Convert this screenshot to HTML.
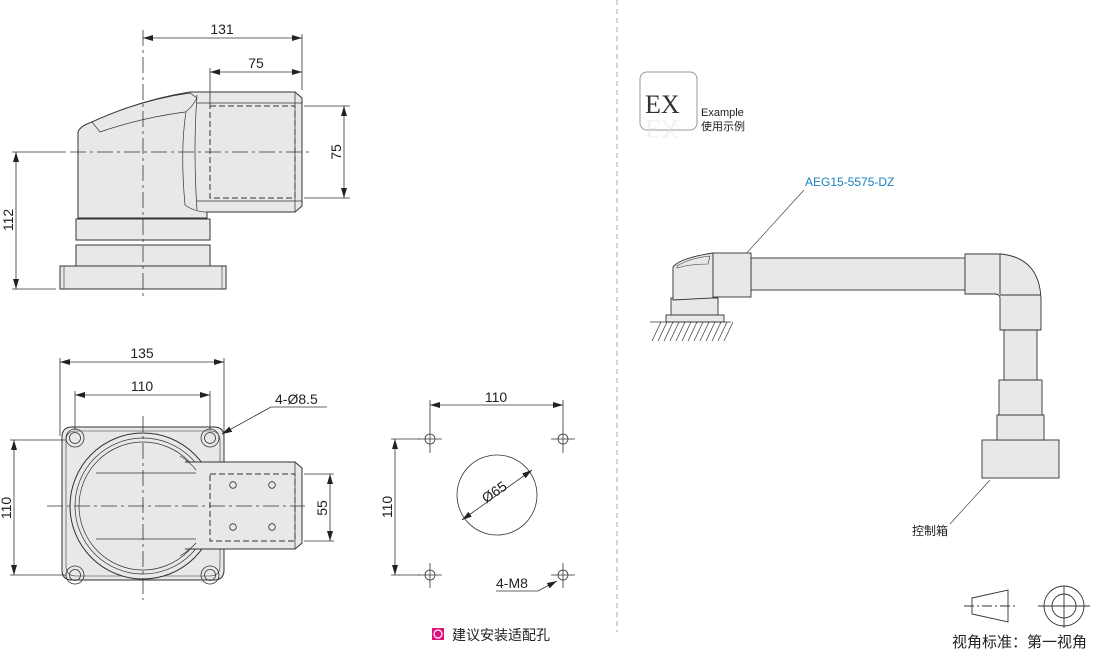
<!DOCTYPE html>
<html><head><meta charset="utf-8"><style>
html,body{margin:0;padding:0;background:#fff;}
svg{display:block;font-family:"Liberation Sans","Noto Sans CJK SC",sans-serif;}
</style></head><body>
<svg width="1110" height="654" viewBox="0 0 1110 654" xmlns="http://www.w3.org/2000/svg">
<defs>
<marker id="a" viewBox="0 0 10 6" refX="10" refY="3" markerWidth="10" markerHeight="6" orient="auto-start-reverse" markerUnits="userSpaceOnUse"><path d="M0,0 L10,3 L0,6 z" fill="#222"/></marker>
</defs>
<g stroke="#333" stroke-width="1" fill="#e8e8ea">
<rect x="60" y="266" width="166" height="23"/>
<rect x="64" y="266" width="158" height="23" fill="none" stroke-width="0.6"/>
<rect x="76" y="245" width="134" height="21"/>
<rect x="76" y="219" width="134" height="21"/>
<path d="M78,200 L78,132 Q80,126 92,122 Q140,100 190,92 L295,92 L302,98 L302,206 L295,212 L207,212 L207,218 L78,218 Z"/>
<path d="M92,122 Q140,100 190,93 L197,98 Q190,110 185,112 Q140,118 100,132 Z" stroke-width="0.7"/>
<path d="M186,112 Q180,150 185,205 Q195,212 207,212" fill="none" stroke-width="0.7"/>
<path d="M197,95 Q193,150 197,210" fill="none" stroke-width="0.7"/>
<line x1="197" y1="103" x2="302" y2="103" stroke-width="0.7"/>
<line x1="197" y1="201" x2="302" y2="201" stroke-width="0.7"/>
<line x1="295" y1="92" x2="295" y2="212" stroke-width="0.7"/>
<rect x="210" y="106" width="85" height="92" fill="none" stroke-dasharray="6,3"/>
<path d="M72,427 L214,427 Q224,427 224,437 L224,570 Q224,580 214,580 L72,580 Q62,580 62,570 L62,437 Q62,427 72,427 Z"/>
<path d="M76,431 L210,431 Q220,431 220,441 L220,566 Q220,576 210,576 L76,576 Q66,576 66,566 L66,441 Q66,431 76,431 Z" fill="none" stroke-width="0.6"/>
<circle cx="143" cy="506" r="73"/>
<circle cx="143" cy="506" r="68" fill="none" stroke-width="0.7"/>
<circle cx="143" cy="506" r="64" fill="none" stroke-width="0.7"/>
<path d="M180,462 L295,462 L302,468 L302,543 L295,549 L180,549 Z" stroke="none"/>
<path d="M185,462 L295,462 L302,468 L302,543 L295,549 L185,549" fill="none"/>
<line x1="96" y1="473" x2="196" y2="473" stroke-width="0.7"/>
<line x1="96" y1="539" x2="196" y2="539" stroke-width="0.7"/>
<line x1="295" y1="462" x2="295" y2="549" stroke-width="0.7"/>
<path d="M180,456 Q190,462 196,470 M180,556 Q190,550 196,543" fill="none" stroke-width="0.7"/>
<rect x="210" y="474" width="85" height="67" fill="none" stroke-dasharray="6,3"/>
<g fill="none" stroke-width="0.8">
<circle cx="233" cy="485" r="3.3"/><circle cx="272" cy="485" r="3.3"/>
<circle cx="233" cy="527" r="3.3"/><circle cx="272" cy="527" r="3.3"/>
<circle cx="75" cy="438" r="9"/><circle cx="75" cy="438" r="5.5"/>
<circle cx="210" cy="438" r="9"/><circle cx="210" cy="438" r="5.5"/>
<circle cx="75" cy="575" r="9"/><circle cx="75" cy="575" r="5.5"/>
<circle cx="210" cy="575" r="9"/><circle cx="210" cy="575" r="5.5"/>
</g>
</g>
<g stroke="#333" stroke-width="0.8" stroke-dasharray="16,4,3,4" fill="none">
<line x1="143" y1="30" x2="143" y2="300"/>
<line x1="70" y1="152" x2="312" y2="152"/>
<line x1="143" y1="416" x2="143" y2="600"/>
<line x1="47" y1="506" x2="305" y2="506"/>
</g>
<g stroke="#333" stroke-width="0.8" fill="none">
<line x1="302" y1="34" x2="302" y2="90"/>
<line x1="210" y1="68" x2="210" y2="106"/>
<line x1="143" y1="38" x2="302" y2="38" marker-start="url(#a)" marker-end="url(#a)"/>
<line x1="210" y1="72" x2="302" y2="72" marker-start="url(#a)" marker-end="url(#a)"/>
<line x1="304" y1="106" x2="350" y2="106"/><line x1="304" y1="198" x2="350" y2="198"/>
<line x1="344" y1="106" x2="344" y2="198" marker-start="url(#a)" marker-end="url(#a)"/>
<line x1="12" y1="152" x2="66" y2="152"/><line x1="12" y1="289" x2="56" y2="289"/>
<line x1="16" y1="152" x2="16" y2="289" marker-start="url(#a)" marker-end="url(#a)"/>
<line x1="60" y1="358" x2="60" y2="436"/><line x1="224" y1="358" x2="224" y2="436"/>
<line x1="60" y1="362" x2="224" y2="362" marker-start="url(#a)" marker-end="url(#a)"/>
<line x1="75" y1="391" x2="75" y2="430"/><line x1="210" y1="391" x2="210" y2="430"/>
<line x1="75" y1="395" x2="210" y2="395" marker-start="url(#a)" marker-end="url(#a)"/>
<line x1="10" y1="440" x2="66" y2="440"/><line x1="10" y1="575" x2="66" y2="575"/>
<line x1="14" y1="440" x2="14" y2="575" marker-start="url(#a)" marker-end="url(#a)"/>
<line x1="304" y1="474" x2="334" y2="474"/><line x1="304" y1="541" x2="334" y2="541"/>
<line x1="330" y1="474" x2="330" y2="541" marker-start="url(#a)" marker-end="url(#a)"/>
<polyline points="327,407 271,407 222,434" marker-end="url(#a)"/>
<line x1="430" y1="400" x2="430" y2="428"/><line x1="563" y1="400" x2="563" y2="428"/>
<line x1="430" y1="405" x2="563" y2="405" marker-start="url(#a)" marker-end="url(#a)"/>
<line x1="391" y1="439" x2="420" y2="439"/><line x1="391" y1="575" x2="420" y2="575"/>
<line x1="395" y1="439" x2="395" y2="575" marker-start="url(#a)" marker-end="url(#a)"/>
<circle cx="497" cy="495" r="40"/>
<line x1="462" y1="520" x2="532" y2="470" marker-start="url(#a)" marker-end="url(#a)"/>
<polyline points="496,591 538,591 557,581" marker-end="url(#a)"/>
</g>
<g stroke="#333" stroke-width="0.8" fill="none">
<circle cx="430" cy="439" r="5"/><line x1="418" y1="439" x2="442" y2="439"/><line x1="430" y1="427" x2="430" y2="453"/>
<circle cx="563" cy="439" r="5"/><line x1="551" y1="439" x2="575" y2="439"/><line x1="563" y1="427" x2="563" y2="453"/>
<circle cx="430" cy="575" r="5"/><line x1="418" y1="575" x2="442" y2="575"/><line x1="430" y1="563" x2="430" y2="588"/>
<circle cx="563" cy="575" r="5"/><line x1="551" y1="575" x2="575" y2="575"/><line x1="563" y1="563" x2="563" y2="588"/>
</g>
<g font-size="14" fill="#222">
<text x="222" y="34" text-anchor="middle">131</text>
<text x="256" y="68" text-anchor="middle">75</text>
<text transform="translate(341,152) rotate(-90)" text-anchor="middle">75</text>
<text transform="translate(13,220) rotate(-90)" text-anchor="middle">112</text>
<text x="142" y="358" text-anchor="middle">135</text>
<text x="142" y="391" text-anchor="middle">110</text>
<text transform="translate(11,508) rotate(-90)" text-anchor="middle">110</text>
<text transform="translate(327,508) rotate(-90)" text-anchor="middle">55</text>
<text x="275" y="404">4-Ø8.5</text>
<text x="496" y="402" text-anchor="middle">110</text>
<text transform="translate(392,507) rotate(-90)" text-anchor="middle">110</text>
<text transform="translate(497,496) rotate(-35)" text-anchor="middle">Ø65</text>
<text x="496" y="588">4-M8</text>
</g>
<rect x="432" y="628" width="12" height="12" fill="#e0127a"/>
<circle cx="438" cy="634" r="4" fill="none" stroke="#fff" stroke-width="1.2"/>
<text x="452" y="640" font-size="14" fill="#222">建议安装适配孔</text>
<line x1="617" y1="0" x2="617" y2="632" stroke="#aaa" stroke-dasharray="5,4"/>
<rect x="640" y="72" width="57" height="58" rx="7" fill="#fff" stroke="#999"/>
<text x="645" y="113" font-family="Liberation Serif,serif" font-size="26" fill="#333">EX</text>
<text x="645" y="116" font-family="Liberation Serif,serif" font-size="26" fill="#ddd" transform="translate(0,236) scale(1,-1)" opacity="0.4">EX</text>
<text x="701" y="116" font-size="11" fill="#222">Example</text>
<text x="701" y="130" font-size="11" fill="#222">使用示例</text>
<text x="805" y="186" font-size="12" fill="#1a7fc0">AEG15-5575-DZ</text>
<line x1="804" y1="190" x2="733" y2="268" stroke="#333" stroke-width="0.6"/>
<g stroke="#333" stroke-width="0.9" fill="#e8e8ea">
<rect x="751" y="258" width="214" height="32"/>
<rect x="982" y="440" width="77" height="38"/>
<rect x="997" y="415" width="47" height="25"/>
<rect x="999" y="380" width="43" height="35"/>
<rect x="1004" y="330" width="33" height="50"/>
<path d="M965,254 L1001,254 Q1040,258 1041,300 L1041,330 L1000,330 L1000,298 Q1000,294 995,294 L965,294 Z"/>
<line x1="1000" y1="254" x2="1000" y2="294"/><line x1="1000" y1="295" x2="1041" y2="295"/>
<rect x="671" y="298" width="47" height="17"/>
<rect x="666" y="315" width="58" height="7"/>
<path d="M673,300 L673,267 Q680,258 713,253 L713,298 Z"/>
<path d="M677,266 Q690,258 710,256 L708,264 Q690,264 677,268 Z" stroke-width="0.6"/>
<rect x="713" y="253" width="38" height="44"/>
</g>
<g stroke="#333" stroke-width="0.7">
<line x1="650" y1="322" x2="731" y2="322"/>
<line x1="661" y1="322" x2="652" y2="341"/><line x1="667" y1="322" x2="658" y2="341"/><line x1="673" y1="322" x2="664" y2="341"/><line x1="679" y1="322" x2="670" y2="341"/><line x1="685" y1="322" x2="676" y2="341"/><line x1="691" y1="322" x2="682" y2="341"/><line x1="697" y1="322" x2="688" y2="341"/><line x1="703" y1="322" x2="694" y2="341"/><line x1="709" y1="322" x2="700" y2="341"/><line x1="715" y1="322" x2="706" y2="341"/><line x1="721" y1="322" x2="712" y2="341"/><line x1="727" y1="322" x2="718" y2="341"/><line x1="733" y1="322" x2="724" y2="341"/>
<line x1="990" y1="480" x2="950" y2="524" stroke-width="0.6"/>
</g>
<text x="912" y="535" font-size="12" fill="#222">控制箱</text>
<g stroke="#333" stroke-width="0.9" fill="none">
<path d="M972,598 L1008,590 L1008,622 L972,614 Z"/>
<line x1="964" y1="606" x2="1016" y2="606" stroke-dasharray="10,3,2,3"/>
<circle cx="1064" cy="606" r="20"/><circle cx="1064" cy="606" r="12"/>
<line x1="1038" y1="606" x2="1090" y2="606"/><line x1="1064" y1="586" x2="1064" y2="628"/>
</g>
<text x="952" y="647" font-size="15" fill="#222">视角标准：第一视角</text>
</svg>
</body></html>
